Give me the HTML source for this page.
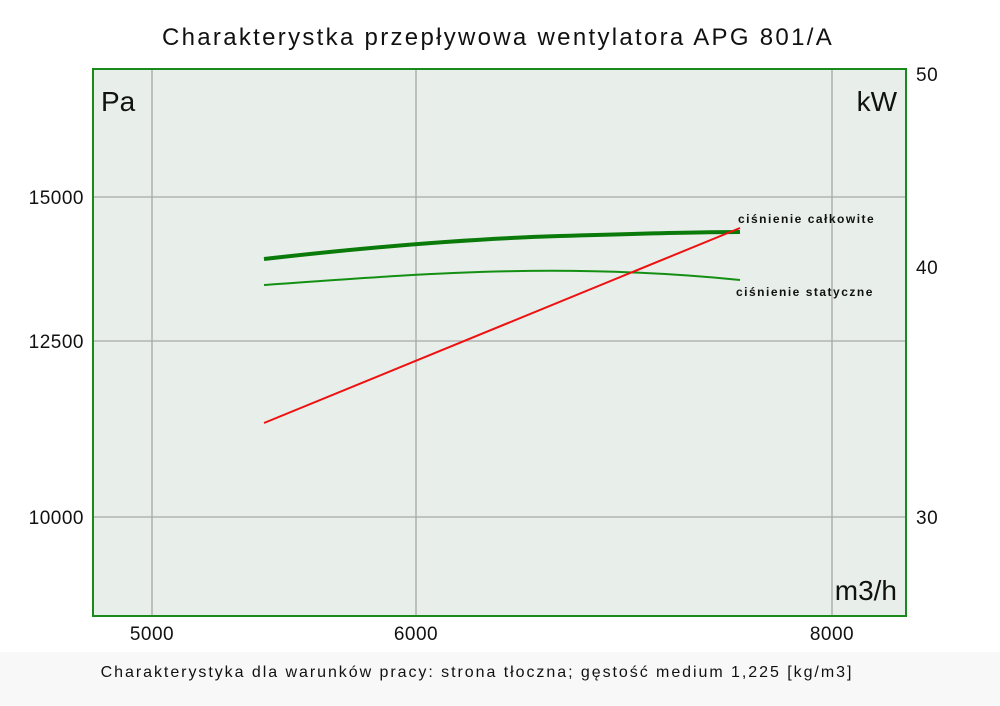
<!DOCTYPE html>
<html><head><meta charset="utf-8"><style>
html,body{margin:0;padding:0;background:#fff;}
svg{display:block;font-family:"Liberation Sans","DejaVu Sans",sans-serif;}
</style></head><body>
<svg width="1000" height="706" viewBox="0 0 1000 706" xmlns="http://www.w3.org/2000/svg">
<rect x="0" y="0" width="1000" height="706" fill="#fff"/>
<rect x="0" y="652" width="1000" height="54" fill="#f8f8f8"/>
<text x="498" y="45" font-size="24" text-anchor="middle" fill="#111" letter-spacing="2.3">Charakterystka przepływowa wentylatora APG 801/A</text>
<rect x="93" y="69" width="813" height="547" fill="#e8eee9"/>
<g stroke="#a8a8a8" stroke-width="1.3">
<line x1="152" y1="69" x2="152" y2="616"/>
<line x1="416" y1="69" x2="416" y2="616"/>
<line x1="832" y1="69" x2="832" y2="616"/>
<line x1="93" y1="197" x2="906" y2="197"/>
<line x1="93" y1="341" x2="906" y2="341"/>
<line x1="93" y1="517" x2="906" y2="517"/>
</g>
<rect x="93" y="69" width="813" height="547" fill="none" stroke="#1a8a1a" stroke-width="2"/>
<path d="M264,259 Q430,240 560,236 T740,232" fill="none" stroke="#0a7a0a" stroke-width="4"/>
<path d="M264,285 C420,274 560,262 740,280" fill="none" stroke="#139013" stroke-width="2"/>
<line x1="264" y1="423" x2="740" y2="228" stroke="#ee1111" stroke-width="2"/>
<g font-size="12" font-weight="bold" fill="#111" letter-spacing="1.5">
<text x="738" y="223">ciśnienie całkowite</text>
<text x="736" y="296">ciśnienie statyczne</text>
</g>
<g font-size="28" fill="#111">
<text x="101" y="111">Pa</text>
<text x="897" y="111" text-anchor="end">kW</text>
<text x="897" y="600" text-anchor="end">m3/h</text>
</g>
<g font-size="19" fill="#111" letter-spacing="0.5">
<text x="84" y="204" text-anchor="end">15000</text>
<text x="84" y="348" text-anchor="end">12500</text>
<text x="84" y="524" text-anchor="end">10000</text>
<text x="916" y="81">50</text>
<text x="916" y="274">40</text>
<text x="916" y="524">30</text>
<text x="152" y="640" text-anchor="middle">5000</text>
<text x="416" y="640" text-anchor="middle">6000</text>
<text x="832" y="640" text-anchor="middle">8000</text>
</g>
<text x="477" y="677" font-size="16" text-anchor="middle" fill="#111" letter-spacing="1.95">Charakterystyka dla warunków pracy: strona tłoczna; gęstość medium 1,225 [kg/m3]</text>
</svg>
</body></html>
